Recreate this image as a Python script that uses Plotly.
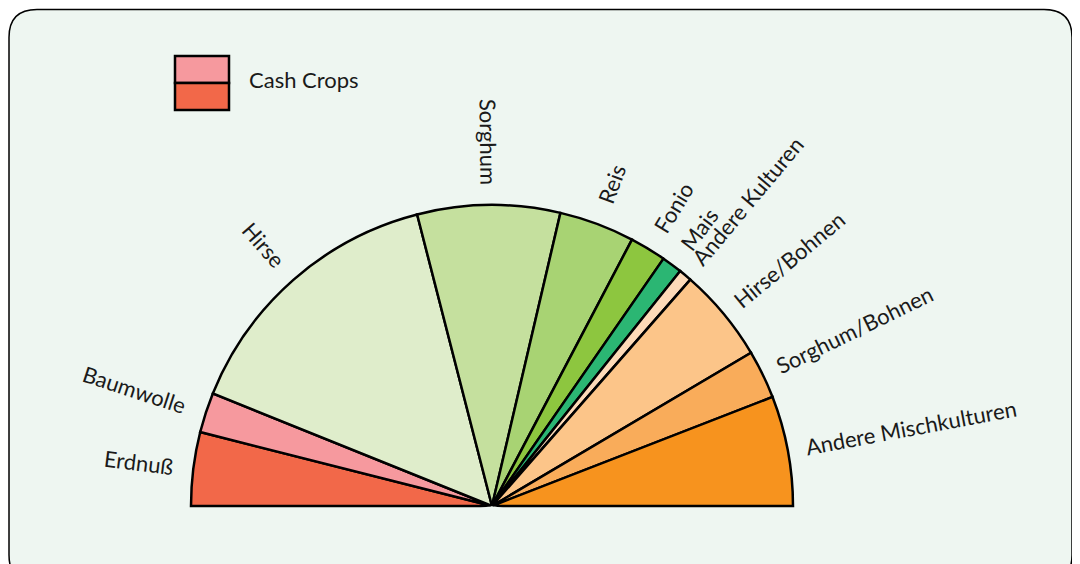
import math
import plotly.graph_objects as go

# crop shares of the cultivated area (percent, half circle = 100 %)
crops = [
    "Erdnuß", "Baumwolle", "Hirse", "Sorghum", "Reis", "Fonio", "Mais",
    "Andere Kulturen", "Hirse/Bohnen", "Sorghum/Bohnen", "Andere Mischkulturen",
]
shares = [7.9, 4.3, 29.8, 15.3, 8.1, 3.9, 2.2, 1.4, 10.1, 5.2, 11.8]
colors = [
    "#F26849", "#F6999E", "#DFEDCB", "#C5E09E", "#A8D373", "#8DC63F",
    "#2BB673", "#FDDAB8", "#FCC589", "#F9AC5A", "#F7931E",
]
legend_label = "Cash Crops"
legend_colors = ["#F6999E", "#F26849"]

W, H = 1080, 564
FONT = "Lato, 'Open Sans', sans-serif"
FS = 22

# half-pie geometry in pixels (figure coordinates)
cx, cy, R = 484, 498, 301
SECTOR_PAD = 10  # widen the sector a bit so the baseline stroke is not clipped
RMAX = 1.012     # same for the outer arc


def text_len(s):
    # rough width of a label in px
    w = 0
    for ch in s:
        if ch in "ilrtfj/ ":
            w += 0.3
        elif ch in "mwMW":
            w += 0.8
        elif ch.isupper():
            w += 0.65
        else:
            w += 0.52
    return w * FS


# angles (deg, from the left, clockwise over the top)
total = sum(shares)
widths = [s / total * 180 for s in shares]
centers = []
acc = 0
for w in widths:
    centers.append(acc + w / 2)
    acc += w

fig = go.Figure()
fig.add_trace(
    go.Barpolar(
        r=[1] * len(shares),
        theta=centers,
        width=widths,
        marker=dict(color=colors, line=dict(color="black", width=2.5)),
        text=crops,
        hoverinfo="text",
        showlegend=False,
    )
)

annotations = []
for name, phi in zip(crops, centers):
    d = R + 21 + text_len(name) / 2
    px = cx - math.cos(math.radians(phi)) * d
    py = cy - math.sin(math.radians(phi)) * d
    annotations.append(
        dict(
            x=px / W, y=1 - py / H, xref="paper", yref="paper",
            text=name, showarrow=False, xanchor="center", yanchor="middle",
            textangle=phi if phi <= 90 else phi - 180,
            font=dict(family=FONT, size=FS, color="#1a1a1a"),
        )
    )

annotations.append(
    dict(
        x=239 / W, y=1 - 72 / H, xref="paper", yref="paper",
        text=legend_label, showarrow=False, xanchor="left", yanchor="middle",
        font=dict(family=FONT, size=FS, color="#1a1a1a"),
    )
)


def px_to_paper(x, y):
    return x / W, 1 - y / H


# rounded panel behind everything
l, t, r_, b, rad = 1, 1.5, 1064, 575, 28
pts = [
    ("M", l + rad, t), ("L", r_ - rad, t), ("Q", r_, t, r_, t + rad),
    ("L", r_, b - rad), ("Q", r_, b, r_ - rad, b), ("L", l + rad, b),
    ("Q", l, b, l, b - rad), ("L", l, t + rad), ("Q", l, t, l + rad, t),
]
path = ""
for p in pts:
    cmd, coords = p[0], p[1:]
    xy = []
    for i in range(0, len(coords), 2):
        xx, yy = px_to_paper(coords[i], coords[i + 1])
        xy.append(f"{xx:.5f},{yy:.5f}")
    path += cmd + " ".join(xy) + " "
path += "Z"

shapes = [
    dict(type="path", path=path, xref="paper", yref="paper",
         fillcolor="#EEF6F1", line=dict(color="black", width=1.5), layer="below"),
]
# legend swatches
for i, c in enumerate(legend_colors):
    x0, y0 = px_to_paper(167, 48 + i * 27)
    x1, y1 = px_to_paper(221, 48 + (i + 1) * 27)
    shapes.append(
        dict(type="rect", xref="paper", yref="paper", x0=x0, x1=x1, y0=y1, y1=y0,
             fillcolor=c, line=dict(color="black", width=2.5))
    )

# polar domain: sector spans [-pad, 180+pad], so it reaches a bit below the centre
Rp = R * RMAX
below = Rp * math.sin(math.radians(SECTOR_PAD))
dom_x = [(cx - Rp) / W, (cx + Rp) / W]
dom_y = [(H - cy - below) / H, (H - cy + Rp) / H]

fig.update_layout(
    width=W,
    height=H,
    margin=dict(l=0, r=0, t=0, b=0),
    paper_bgcolor="white",
    plot_bgcolor="white",
    shapes=shapes,
    annotations=annotations,
    polar=dict(
        domain=dict(x=dom_x, y=dom_y),
        sector=[-SECTOR_PAD, 180 + SECTOR_PAD],
        hole=0,
        bgcolor="rgba(0,0,0,0)",
        radialaxis=dict(visible=False, range=[0, RMAX]),
        angularaxis=dict(visible=False, rotation=180, direction="clockwise"),
    ),
)

fig.write_html("out.html")
